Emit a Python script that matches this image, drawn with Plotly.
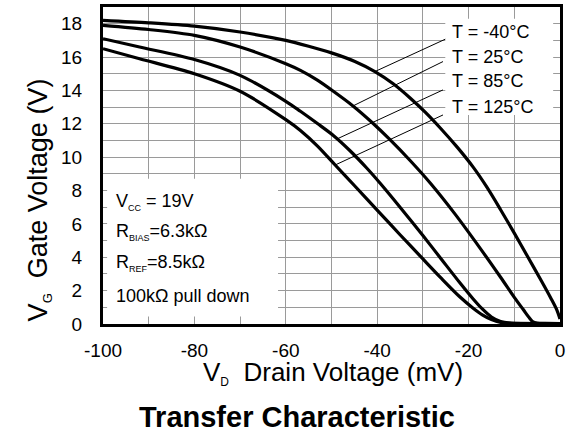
import plotly.graph_objects as go

# ---------------- data ----------------
# T = -40°C
x_m40 = [-100, -90, -80, -70, -60, -55, -50, -45, -40.5, -36.5, -32.8, -29.5, -26.2, -22.5, -19, -16, -13, -10, -7, -4, -2, -0.7, 0]
y_m40 = [18.2, 18.05, 17.85, 17.5, 17.0, 16.65, 16.25, 15.75, 15.13, 14.4, 13.55, 12.7, 11.75, 10.6, 9.4, 8.2, 6.85, 5.45, 4.0, 2.55, 1.55, 0.85, 0.3]
# T = 25°C
x_25 = [-100, -90, -80, -70, -60, -56.8, -53, -49.6, -45.3, -41, -37.2, -32.8, -28.4, -23, -17.5, -13, -10, -8, -6.8, -6, -5, -3, 0]
y_25 = [17.9, 17.65, 17.3, 16.6, 15.6, 15.2, 14.6, 13.95, 13.07, 12.05, 11.05, 9.8, 8.45, 6.6, 4.55, 2.8, 1.6, 0.85, 0.4, 0.15, 0.06, 0.04, 0.03]
# T = 85°C
x_85 = [-100, -92, -80, -70, -60, -56.8, -53, -49.6, -46, -42.3, -39.4, -35, -30, -26, -22, -19, -17, -15, -13, -11, 0]
y_85 = [17.1, 16.6, 15.85, 14.9, 13.35, 12.75, 12.0, 11.3, 10.4, 9.35, 8.45, 7.0, 5.3, 3.9, 2.5, 1.5, 0.9, 0.42, 0.15, 0.06, 0.03]
# T = 125°C
x_125 = [-100, -92, -80, -70, -60, -56.8, -53, -49.2, -45, -39.4, -35, -30, -26, -22, -19, -17, -15, -13, -11, 0]
y_125 = [16.5, 15.9, 15.0, 13.95, 12.25, 11.6, 10.65, 9.53, 8.3, 6.65, 5.35, 3.9, 2.75, 1.65, 0.95, 0.55, 0.27, 0.1, 0.05, 0.03]

curve_labels = ["T = -40°C", "T = 25°C", "T = 85°C", "T = 125°C"]
label_y = [17.52, 16.03, 14.57, 13.03]
label_x = -24.0

# leader lines: from label to curve
leader_x0 = [-25.1, -25.6, -25.6, -25.6]
leader_y0 = [17.07, 15.73, 14.03, 12.53]
leader_x1 = [-40.5, -45.3, -48.8, -49.2]
leader_y1 = [15.13, 13.07, 11.09, 9.53]

cond_lines = [
    'V<sub><span style="font-size:9px">CC</span></sub> = 19V',
    'R<sub><span style="font-size:9px">BIAS</span></sub>=6.3kΩ',
    'R<sub><span style="font-size:9px">REF</span></sub>=8.5kΩ',
    '100kΩ pull down',
]
cond_y = [7.33, 5.53, 3.64, 1.68]
cond_x = -97.5

x_ticks = [-100, -80, -60, -40, -20, 0]
y_ticks = [0, 2, 4, 6, 8, 10, 12, 14, 16, 18]

FONT = "Liberation Sans, Arial, sans-serif"
GRID = "#9a9a9a"

fig = go.Figure()

for xs, ys in [(x_m40, y_m40), (x_25, y_25), (x_85, y_85), (x_125, y_125)]:
    fig.add_trace(go.Scatter(x=xs, y=ys, mode="lines",
                             line=dict(color="black", width=3.2, shape="spline", smoothing=0.8),
                             hoverinfo="skip", showlegend=False))

lx, ly = [], []
for a, b, c, d in zip(leader_x0, leader_y0, leader_x1, leader_y1):
    lx += [a, c, None]
    ly += [b, d, None]
fig.add_trace(go.Scatter(x=lx, y=ly, mode="lines", line=dict(color="black", width=1),
                         hoverinfo="skip", showlegend=False))

shapes = [
    dict(type="rect", xref="x", yref="y", x0=-25.1, x1=-1.5, y0=12.53, y1=18.3,
         fillcolor="white", line=dict(width=0), layer="between"),
    dict(type="rect", xref="x", yref="y", x0=-99.1, x1=-61.7, y0=0.45, y1=8.7,
         fillcolor="white", line=dict(width=0), layer="between"),
]

annotations = []
for t, yy in zip(curve_labels, label_y):
    annotations.append(dict(x=label_x, y=yy, xref="x", yref="y", text=t, showarrow=False,
                            xanchor="left", yanchor="middle",
                            font=dict(family=FONT, size=18, color="black")))
for t, yy in zip(cond_lines, cond_y):
    annotations.append(dict(x=cond_x, y=yy, xref="x", yref="y", text=t, showarrow=False,
                            xanchor="left", yanchor="middle",
                            font=dict(family=FONT, size=18, color="black")))

annotations.append(dict(x=0.503, y=-0.155, xref="paper", yref="paper",
                        text='V<sub><span style="font-size:12px">D</span></sub>  Drain Voltage (mV)',
                        showarrow=False, xanchor="center", yanchor="middle",
                        font=dict(family=FONT, size=26, color="black")))
annotations.append(dict(x=-0.14, y=0.39, xref="paper", yref="paper",
                        text='V<sub><span style="font-size:13px">G</span></sub>  Gate Voltage (V)',
                        showarrow=False, xanchor="center", yanchor="middle", textangle=-90,
                        font=dict(family=FONT, size=27, color="black")))
annotations.append(dict(x=0.4245, y=-0.293, xref="paper", yref="paper",
                        text='<b>Transfer Characteristic</b>',
                        showarrow=False, xanchor="center", yanchor="middle",
                        font=dict(family=FONT, size=29, color="black")))

fig.update_layout(
    width=571, height=439,
    margin=dict(l=103, r=11, t=7, b=115, autoexpand=False),
    paper_bgcolor="white", plot_bgcolor="white",
    shapes=shapes, annotations=annotations,
    showlegend=False,
)
fig.update_xaxes(range=[-100, 0], tickvals=x_ticks, ticktext=[str(v) for v in x_ticks],
                 showgrid=True, gridcolor=GRID, gridwidth=1, automargin=False,
                 minor=dict(dtick=10, tick0=0, showgrid=True, gridcolor=GRID, gridwidth=1),
                 showline=True, linecolor="black", linewidth=3, mirror=True, zeroline=False,
                 ticks="", ticklabelstandoff=7,
                 tickfont=dict(family=FONT, size=19, color="black"))
fig.update_yaxes(range=[0, 19], tickvals=y_ticks, ticktext=[str(v) for v in y_ticks],
                 showgrid=True, gridcolor=GRID, gridwidth=1, automargin=False,
                 minor=dict(dtick=1, tick0=0, showgrid=True, gridcolor=GRID, gridwidth=1),
                 showline=True, linecolor="black", linewidth=3, mirror=True, zeroline=False,
                 ticks="", ticklabelstandoff=14,
                 tickfont=dict(family=FONT, size=19, color="black"))

fig.write_html("out.html", config={"displayModeBar": False, "staticPlot": True},
               post_script="document.body.style.margin='0';document.body.style.overflow='hidden';")
